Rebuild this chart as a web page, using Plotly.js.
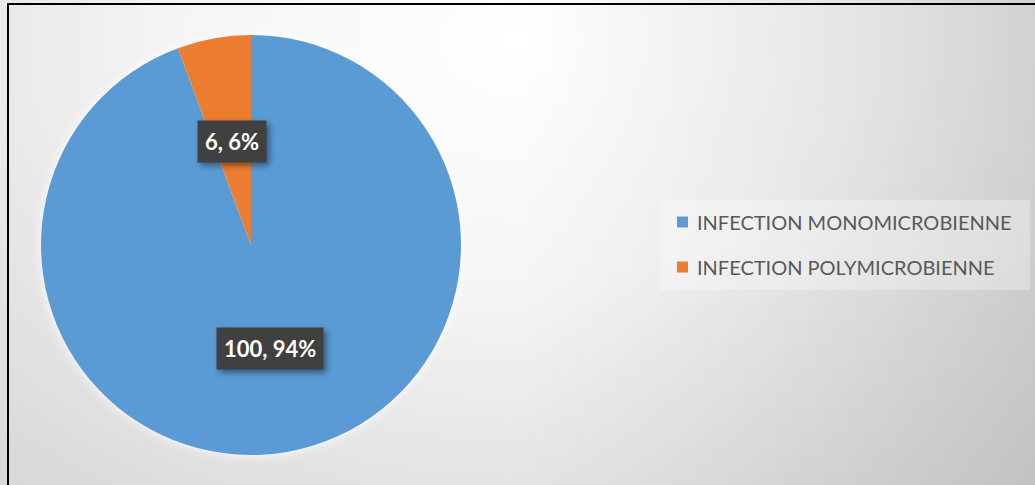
<!DOCTYPE html>
<html>
<head>
<meta charset="utf-8">
<script src="https://cdn.plot.ly/plotly-3.0.1.min.js"></script>
<style>
  html, body { margin: 0; padding: 0; }
  #wrap {
    position: relative; width: 1035px; height: 485px; overflow: hidden;
    background:
      linear-gradient(to right, rgba(0,0,0,0) 50%, rgba(0,0,0,0.1) 100%),
      radial-gradient(ellipse 850px 620px at 520px 40px, #ffffff 0%, #f5f5f5 40%, #d4d4d4 100%);
  }
  #frame {
    position: absolute; left: 7px; top: 3px; width: 1100px; height: 600px;
    border-left: 2px solid #000; border-top: 2px solid #000; pointer-events: none;
  }
  #chart { position: absolute; left: 0; top: 0; width: 1035px; height: 485px; }
  .pielayer { filter: drop-shadow(0 0 6px rgba(255,255,255,0.95)); }
  .annotation .bg { filter: drop-shadow(3px 3px 3px rgba(0,0,0,0.45)); }
</style>
</head>
<body>
<div id="wrap">
  <div id="chart"></div>
  <div id="frame"></div>
</div>
<script>
// ---- data ----
const categories = ["INFECTION MONOMICROBIENNE", "INFECTION POLYMICROBIENNE"];
const values = [100, 6];
const colors = ["#5B9BD5", "#ED7D31"];

// ---- geometry ----
const W = 1035, H = 485;
const cxPx = 251, cyPx = 245, rPx = 210;
const domX = [(cxPx - rPx) / W, (cxPx + rPx) / W];
const domY = [(H - cyPx - rPx) / H, (H - cyPx + rPx) / H];

const total = values.reduce((a, b) => a + b, 0);

// data labels at half radius along each slice bisector (clockwise from 12 o'clock)
const annotations = [];
let cum = 0;
values.forEach((v, i) => {
  const theta = 2 * Math.PI * (cum + v / 2) / total;
  cum += v;
  const px = cxPx + 0.5 * rPx * Math.sin(theta);
  const py = cyPx - 0.5 * rPx * Math.cos(theta);
  annotations.push({
    xref: 'paper', yref: 'paper', x: px / W, y: 1 - py / H,
    xanchor: 'center', yanchor: 'middle', showarrow: false,
    text: '<b>' + v + ', ' + Math.round(v / total * 100) + '%</b>',
    font: { family: 'Lato, "Open Sans", sans-serif', size: 22, color: '#ffffff' },
    bgcolor: '#404040', borderpad: 7
  });
});

// legend (drawn manually for Excel-like spacing)
const shapes = [{
  type: 'rect', xref: 'paper', yref: 'paper',
  x0: 660 / W, x1: 1030 / W, y0: 1 - 290 / H, y1: 1 - 200 / H,
  fillcolor: 'rgba(255,255,255,0.3)', line: { width: 0 }, layer: 'below'
}];
categories.forEach((c, i) => {
  const yc = 222 + i * 45;
  shapes.push({
    type: 'rect', xref: 'paper', yref: 'paper',
    x0: 677 / W, x1: 688 / W, y0: 1 - (yc + 5.5) / H, y1: 1 - (yc - 5.5) / H,
    fillcolor: colors[i], line: { width: 0 }
  });
  annotations.push({
    xref: 'paper', yref: 'paper', x: 695 / W, y: 1 - yc / H,
    xanchor: 'left', yanchor: 'middle', showarrow: false,
    text: c,
    font: { family: 'Lato, "Open Sans", sans-serif', size: 20, color: '#595959' }
  });
});

const trace = {
  type: 'pie',
  labels: categories,
  values: values,
  marker: { colors: colors, line: { width: 0 } },
  sort: false,
  direction: 'clockwise',
  rotation: 0,
  textinfo: 'none',
  hoverinfo: 'label+value+percent',
  domain: { x: domX, y: domY },
  showlegend: false
};

const layout = {
  width: W, height: H,
  margin: { l: 0, r: 0, t: 0, b: 0 },
  paper_bgcolor: 'rgba(0,0,0,0)',
  plot_bgcolor: 'rgba(0,0,0,0)',
  showlegend: false,
  annotations: annotations,
  shapes: shapes
};

Plotly.newPlot('chart', [trace], layout, { displayModeBar: false, staticPlot: true });
</script>
</body>
</html>
